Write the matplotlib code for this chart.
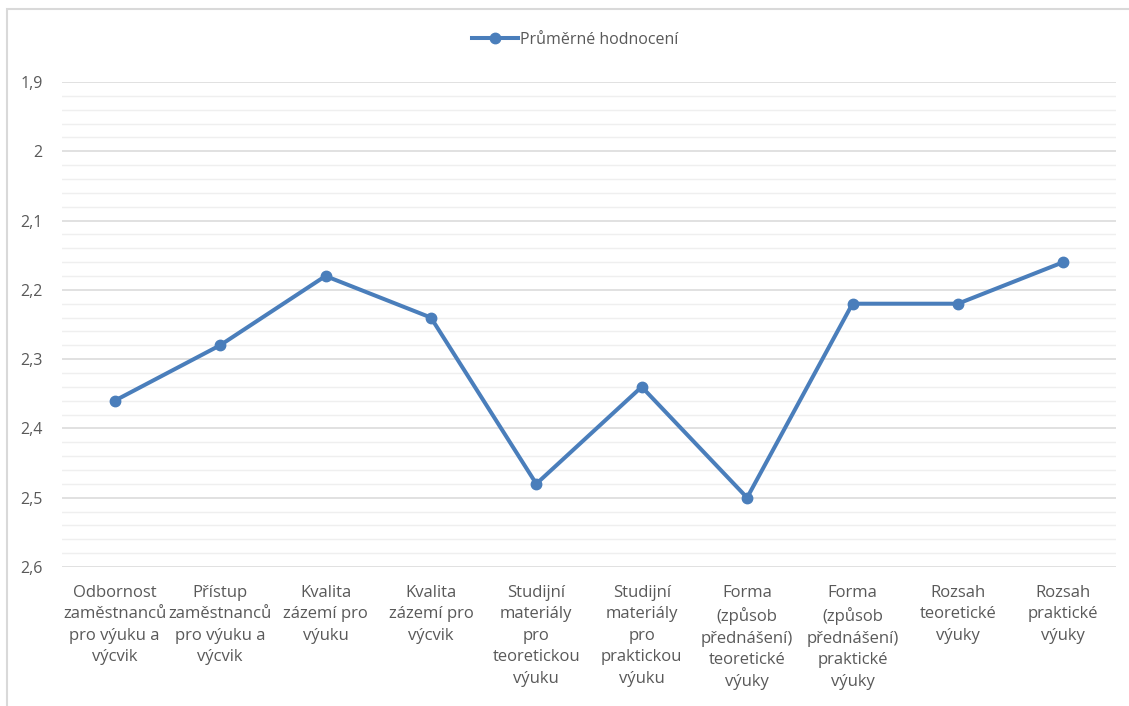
import matplotlib
matplotlib.use("Agg")
import matplotlib.pyplot as plt
from matplotlib.ticker import MultipleLocator, FixedLocator, FuncFormatter
from matplotlib.patches import Rectangle
from matplotlib.lines import Line2D

plt.rcParams['font.family'] = ['Open Sans', 'DejaVu Sans']

categories = [
    "Odbornost\nzaměstnanců\npro výuku a\nvýcvik",
    "Přístup\nzaměstnanců\npro výuku a\nvýcvik",
    "Kvalita\nzázemí pro\nvýuku",
    "Kvalita\nzázemí pro\nvýcvik",
    "Studijní\nmateriály\npro\nteoretickou\nvýuku",
    "Studijní\nmateriály\npro\npraktickou\nvýuku",
    "Forma\n(způsob\npřednášení)\nteoretické\nvýuky",
    "Forma\n(způsob\npřednášení)\npraktické\nvýuky",
    "Rozsah\nteoretické\nvýuky",
    "Rozsah\npraktické\nvýuky",
]
prumerne_hodnoceni = [2.36, 2.28, 2.18, 2.24, 2.48, 2.34, 2.50, 2.22, 2.22, 2.16]
series_name = "Průměrné hodnocení"
y_ticks = [1.9, 2.0, 2.1, 2.2, 2.3, 2.4, 2.5, 2.6]

text_color = "#595959"
line_color = "#4a7ebb"

fig = plt.figure(figsize=(11.29, 7.06), dpi=100)
ax = fig.add_axes([62 / 1129, 1 - 567 / 706, (1116 - 62) / 1129, (567 - 82) / 706])

x = list(range(len(categories)))
ax.plot(x, prumerne_hodnoceni, color=line_color, lw=2.9, marker="o",
        markersize=7.5, solid_joinstyle="round", zorder=3, clip_on=False)

ax.set_xlim(-0.5, len(categories) - 0.5)
ax.set_ylim(2.6, 1.9)

ax.yaxis.set_major_locator(FixedLocator(y_ticks))
ax.yaxis.set_minor_locator(MultipleLocator(0.02))
ax.yaxis.set_major_formatter(FuncFormatter(lambda v, p: f"{v:g}".replace(".", ",")))
ax.grid(axis="y", which="major", color="#d9d9d9", lw=1.1)
ax.grid(axis="y", which="minor", color="#efefef", lw=1.0)
ax.set_axisbelow(True)

ax.set_xticks(x)
ax.set_xticklabels(categories, linespacing=1.45, va="top")
ax.tick_params(axis="x", length=0, pad=13, labelsize=12, labelcolor=text_color)
ax.tick_params(axis="y", which="both", length=0, pad=14, labelsize=11.5, labelcolor=text_color)

for s in ax.spines.values():
    s.set_visible(False)

# chart frame
fig.patches.append(Rectangle((7 / 1129, -0.01), 1.2, 1 - 9 / 706 + 0.01,
                             transform=fig.transFigure, fill=False,
                             edgecolor="#d9d9d9", lw=1.5))

handle = Line2D([], [], color=line_color, lw=2.9, marker="o", markersize=7.5)
fig.legend([handle], [series_name], loc="center", bbox_to_anchor=(575 / 1129, 1 - 40 / 706),
           frameon=False, fontsize=11.5, labelcolor=text_color, handlelength=2.9,
           handletextpad=0.1)

fig.savefig("out.png", dpi=100)
